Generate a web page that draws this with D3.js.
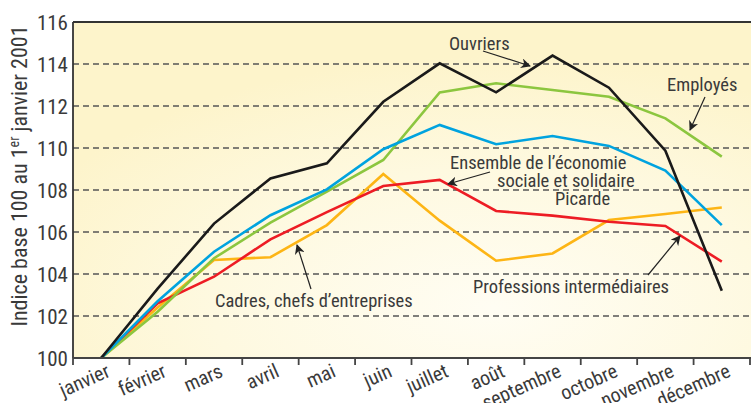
<!DOCTYPE html>
<html lang="fr">
<head>
<meta charset="utf-8">
<title>Indice base 100 au 1er janvier 2001</title>
<script src="https://cdnjs.cloudflare.com/ajax/libs/d3/7.8.5/d3.min.js"></script>
<style>
  body { margin: 0; background: #fff; }
  svg { display: block; font-family: "Liberation Sans Narrow", "Roboto Condensed", "Roboto", sans-serif; font-stretch: condensed; }
  .lab { fill: #3a3a3a; }
</style>
</head>
<body>
<svg id="chart" width="751" height="403"></svg>
<script>
// data
var mois = ["janvier", "février", "mars", "avril", "mai", "juin", "juillet", "août", "septembre", "octobre", "novembre", "décembre"];
var yTicks = [100, 102, 104, 106, 108, 110, 112, 114, 116];

var ouvriers     = [100, 103.3, 106.4, 108.55, 109.27, 112.2, 114.03, 112.65, 114.4, 112.87, 109.87, 103.2];
var employes     = [100, 102.2, 104.75, 106.45, 107.92, 109.43, 112.65, 113.08, 112.76, 112.44, 111.41, 109.59];
var ensemble     = [100, 102.7, 105.06, 106.8, 108.03, 109.94, 111.1, 110.18, 110.57, 110.1, 108.92, 106.33];
var professions  = [100, 102.6, 103.87, 105.65, 106.95, 108.19, 108.48, 107.0, 106.78, 106.49, 106.29, 104.59];
var cadres       = [100, 102.4, 104.67, 104.8, 106.33, 108.76, 106.54, 104.63, 104.98, 106.57, 106.86, 107.17];

var series = [
  { nom: "Cadres",       vals: cadres,      color: "#fdb515" },
  { nom: "Professions",  vals: professions, color: "#ed1c24" },
  { nom: "Employés",     vals: employes,    color: "#8cc63f" },
  { nom: "Ensemble",     vals: ensemble,    color: "#00a3df" },
  { nom: "Ouvriers",     vals: ouvriers,    color: "#1a1a1a" }
];

var svg = d3.select("#chart");
var gL = 73, gR = 750, gT = 22, gB = 358;

var x = d3.scaleBand().domain(mois).range([gL, gR]).padding(0);
var y = d3.scaleLinear().domain([100, 116]).range([gB, gT]);
var cx = function(m) { return x(m) + x.bandwidth() / 2; };

// background
var defs = svg.append("defs");
var grad = defs.append("radialGradient").attr("id", "bg")
  .attr("cx", "62%").attr("cy", "85%").attr("r", "75%");
grad.append("stop").attr("offset", "0%").attr("stop-color", "#fffdf3");
grad.append("stop").attr("offset", "55%").attr("stop-color", "#fef9e0");
grad.append("stop").attr("offset", "100%").attr("stop-color", "#fdf4cb");

defs.append("marker").attr("id", "fl")
  .attr("viewBox", "0 0 10 10").attr("refX", 9).attr("refY", 5)
  .attr("markerWidth", 10).attr("markerHeight", 10)
  .attr("markerUnits", "userSpaceOnUse")
  .attr("orient", "auto")
  .append("path").attr("d", "M0,0 L10,5 L0,10 L3,5 Z").attr("fill", "#222");

svg.append("rect").attr("x", gL).attr("y", gT)
  .attr("width", 751 - gL).attr("height", gB - gT)
  .attr("fill", "url(#bg)");

// dashed grid
svg.append("g").selectAll("line")
  .data(yTicks.filter(function(t) { return t > 100 && t < 116; }))
  .join("line")
  .attr("x1", gL).attr("x2", 751)
  .attr("y1", function(d) { return y(d); }).attr("y2", function(d) { return y(d); })
  .attr("stroke", "#555").attr("stroke-width", 1.6)
  .attr("stroke-dasharray", "6,4");

// y labels
svg.append("g").selectAll("text")
  .data(yTicks).join("text")
  .attr("class", "lab")
  .attr("x", 68).attr("y", function(d) { return y(d); })
  .attr("dy", "0.36em").attr("text-anchor", "end")
  .attr("font-size", 21)
  .text(function(d) { return d; });

svg.append("text").attr("class", "lab")
  .attr("transform", "translate(27,176) rotate(-90)")
  .attr("text-anchor", "middle").attr("font-size", 22)
  .html('Indice base 100 au 1<tspan dy="-8" font-size="14">er</tspan><tspan dy="8"> janvier 2001</tspan>');

// lines
var line = d3.line()
  .x(function(d, i) { return cx(mois[i]); })
  .y(function(d) { return y(d); });

svg.append("g").selectAll("path")
  .data(series).join("path")
  .attr("d", function(s) { return line(s.vals); })
  .attr("fill", "none")
  .attr("stroke", function(s) { return s.color; })
  .attr("stroke-width", 2.6)
  .attr("stroke-linejoin", "miter");

// frame
svg.append("line").attr("x1", gL).attr("x2", 751).attr("y1", gT).attr("y2", gT)
  .attr("stroke", "#333").attr("stroke-width", 1.8);
svg.append("line").attr("x1", gL).attr("x2", gL).attr("y1", gT).attr("y2", gB)
  .attr("stroke", "#333").attr("stroke-width", 1.8);
svg.append("line").attr("x1", gL).attr("x2", 751).attr("y1", gB).attr("y2", gB)
  .attr("stroke", "#444").attr("stroke-width", 1.8);

// x ticks at band edges
var edges = mois.map(function(m) { return x(m); }).concat([gR]);
svg.append("g").selectAll("line")
  .data(edges).join("line")
  .attr("x1", function(d) { return d; }).attr("x2", function(d) { return d; })
  .attr("y1", gB).attr("y2", gB + 7)
  .attr("stroke", "#444").attr("stroke-width", 1.8);

svg.append("g").selectAll("text")
  .data(mois).join("text")
  .attr("class", "lab")
  .attr("text-anchor", "end")
  .attr("font-size", 20)
  .attr("transform", function(m) { return "translate(" + (cx(m) + 10) + ",376) rotate(-24)"; })
  .text(function(m) { return m; });

// annotations
var notes = [
  { lines: [["Ouvriers", 449, 50]], fl: [483, 51, 530, 66] },
  { lines: [["Employés", 667, 91]], fl: [705, 97, 690, 130] },
  { lines: [["Ensemble de l’économie", 450, 169], ["sociale et solidaire", 497, 187], ["Picarde", 555, 205]], fl: [490, 172, 448, 184] },
  { lines: [["Cadres, chefs d’entreprises", 215, 307]], fl: [311, 289, 297, 245] },
  { lines: [["Professions intermédiaires", 473, 293]], fl: [648, 275, 680, 236] }
];

notes.forEach(function(n) {
  n.lines.forEach(function(l) {
    svg.append("text").attr("class", "lab")
      .attr("x", l[1]).attr("y", l[2]).attr("font-size", 18.5)
      .text(l[0]);
  });
  svg.append("line")
    .attr("x1", n.fl[0]).attr("y1", n.fl[1]).attr("x2", n.fl[2]).attr("y2", n.fl[3])
    .attr("stroke", "#222").attr("stroke-width", 1.2)
    .attr("marker-end", "url(#fl)");
});
</script>
</body>
</html>
